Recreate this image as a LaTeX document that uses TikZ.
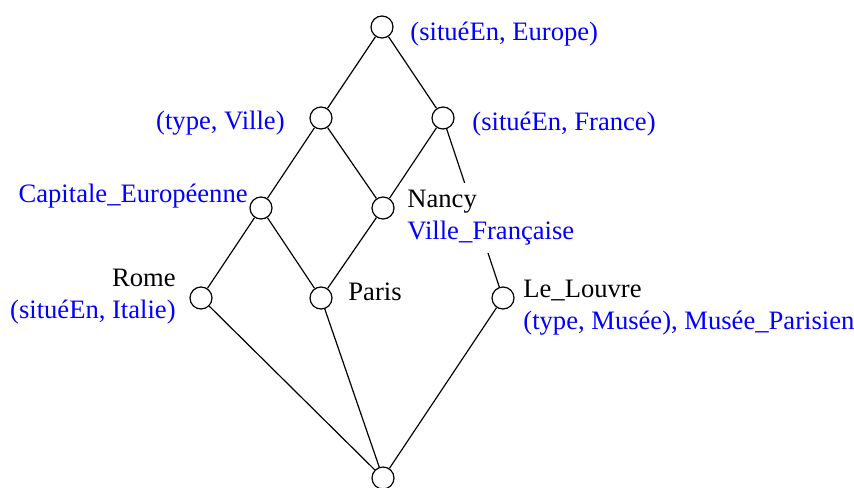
\documentclass[tikz,border=0pt]{standalone}
\usepackage{fontspec}
\setmainfont{Liberation Serif}
\begin{document}
\begin{tikzpicture}[x=0.5pt,y=-0.5pt,
  v/.style={circle,draw,minimum size=11pt,inner sep=0pt,line width=0.6pt,fill=white},
  edge/.style={line width=0.6pt},
  lbl/.style={font=\fontsize{13.3}{16}\selectfont,inner sep=0pt},
  box/.style={font=\fontsize{13.3}{16}\selectfont,inner sep=3.5pt,fill=white}]
\useasboundingbox (0,0) rectangle (854,487);
\node[v] (top) at (382,27) {};
\node[v] (tv) at (321,118) {};
\node[v] (fr) at (443,118) {};
\node[v] (cap) at (261,208) {};
\node[v] (nan) at (383,208) {};
\node[v] (rom) at (201,298) {};
\node[v] (par) at (321,298) {};
\node[v] (lou) at (503,298) {};
\node[v] (bot) at (383,478) {};
\draw[edge] (top) -- (tv);
\draw[edge] (top) -- (fr);
\draw[edge] (tv) -- (cap);
\draw[edge] (tv) -- (nan);
\draw[edge] (fr) -- (nan);
\draw[edge] (fr) -- (lou);
\draw[edge] (cap) -- (rom);
\draw[edge] (cap) -- (par);
\draw[edge] (nan) -- (par);
\draw[edge] (rom) -- (bot);
\draw[edge] (par) -- (bot);
\draw[edge] (lou) -- (bot);
\node[lbl,anchor=west,text=blue] (ltop) at (410,34) {(situéEn, Europe)};
\node[lbl,anchor=east,text=blue] (ltv) at (285,123) {(type, Ville)};
\node[lbl,anchor=west,text=blue] (lfr) at (472,124) {(situéEn, France)};
\node[lbl,anchor=east,text=blue] (lcap) at (248,196) {Capitale\_Européenne};
\node[box,anchor=west,align=left] (lnan) at (400,218) {Nancy\\\textcolor{blue}{Ville\_Française}};
\node[lbl,anchor=east,align=right] (lrom) at (176,297) {Rome\\\textcolor{blue}{(situéEn, Italie)}};
\node[lbl,anchor=west] (lpar) at (348,292) {Paris};
\node[lbl,anchor=west,align=left] (llou) at (523,308) {Le\_Louvre\\\textcolor{blue}{(type, Musée), Musée\_Parisien}};
\end{tikzpicture}
\end{document}
